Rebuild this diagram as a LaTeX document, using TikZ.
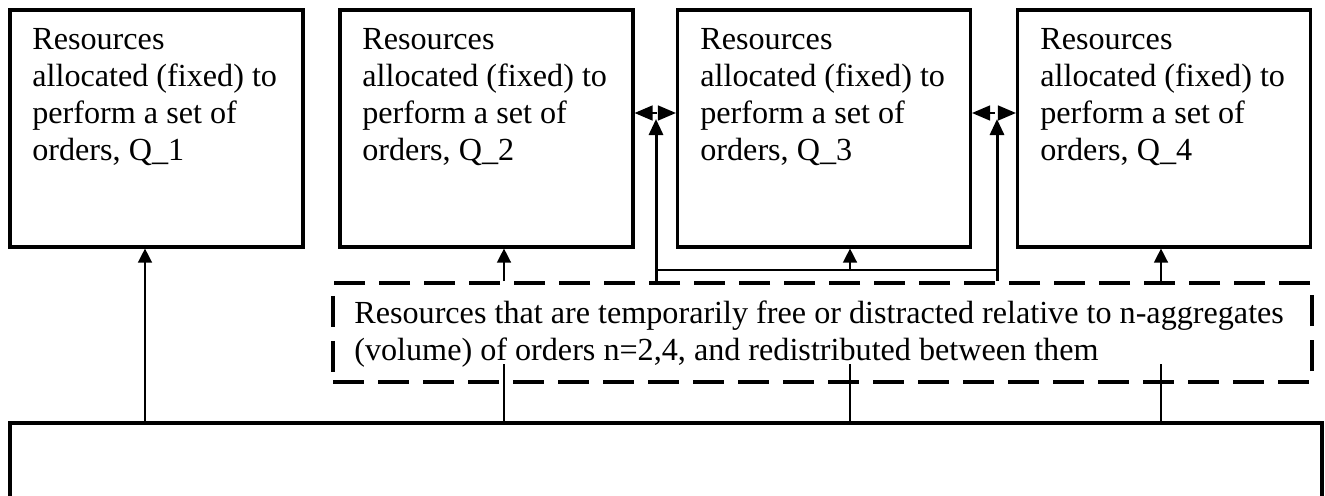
\documentclass[tikz,border=0pt]{standalone}
\usepackage{fontspec}
\setmainfont{Liberation Serif}
\usetikzlibrary{arrows.meta}
\begin{document}
\begin{tikzpicture}[
  box/.style={draw, line width=1.8pt, minimum width=5.86cm, minimum height=4.74cm, inner sep=0pt},
  txt/.style={anchor=north west, inner sep=0pt, align=left, font=\fontsize{18.3}{20.9}\selectfont},
  dbox/.style={draw, line width=2pt, dash pattern=on 0.62cm off 0.28cm, minimum width=19.58cm, minimum height=1.98cm, inner sep=0pt},
  bbox/.style={draw, line width=1.8pt, minimum width=26.24cm, minimum height=1.74cm, inner sep=0pt},
  thinarr/.style={line width=0.8pt, -{Triangle[length=0.28cm, width=0.28cm]}},
  thinline/.style={line width=0.8pt},
  thickarr/.style={line width=1.7pt, -{Triangle[length=0.32cm, width=0.28cm]}},
  thickline/.style={line width=1.7pt},
  dblarr/.style={line width=0.8pt, dash pattern=on 0.1cm off 0.08cm, {Triangle[length=0.36cm, width=0.3cm]}-{Triangle[length=0.36cm, width=0.3cm]}}
]
\useasboundingbox (0,0) rectangle (26.5,-9.9);
\clip (0,0) rectangle (26.5,-9.9);

% top boxes
\node[box] (b1) at (3.13,-2.57) {};
\node[box] (b2) at (9.73,-2.57) {};
\node[box] (b3) at (16.48,-2.57) {};
\node[box] (b4) at (23.28,-2.57) {};
\node[txt] (t1) at (0.64,-0.57) {Resources\\allocated (fixed) to\\perform a set of\\orders, Q\_1};
\node[txt] (t2) at (7.24,-0.57) {Resources\\allocated (fixed) to\\perform a set of\\orders, Q\_2};
\node[txt] (t3) at (14.0,-0.57) {Resources\\allocated (fixed) to\\perform a set of\\orders, Q\_3};
\node[txt] (t4) at (20.8,-0.57) {Resources\\allocated (fixed) to\\perform a set of\\orders, Q\_4};

% dashed box
\node[dbox] (d) at (16.45,-6.65) {};
\node[txt] (td) at (7.08,-6.01) {Resources that are temporarily free or distracted relative to n-aggregates\\(volume) of orders n=2,4, and redistributed between them};

% bottom box
\node[bbox] (bot) at (13.32,-9.33) {};

% x positions
\coordinate (x1) at (2.9,0);
\coordinate (x2) at (10.08,0);
\coordinate (x3) at (17.0,0);
\coordinate (x4) at (23.22,0);
\coordinate (xa) at (13.12,0);
\coordinate (xb) at (19.94,0);
\coordinate (yl) at (0,-7.28);
\coordinate (yh) at (0,-5.4);
\coordinate (yt) at (0,-2.38);
\coordinate (yd) at (0,-2.26);

% bottom box to box1
\draw[thinarr] (bot.north -| x1) -- (b1.south -| x1);
% lines from dashed box interior to bottom box
\draw[thinline] (yl -| x2) -- (bot.north -| x2);
\draw[thinline] (yl -| x3) -- (bot.north -| x3);
\draw[thinline] (yl -| x4) -- (bot.north -| x4);
% dashed box to boxes 2 and 4
\draw[thinarr] (d.north -| x2) -- (b2.south -| x2);
\draw[thinarr] (d.north -| x4) -- (b4.south -| x4);
% redistribution lines
\draw[thickline] (yh -| xa) -- (yh -| xb);
\draw[thinarr] (yh -| x3) -- (b3.south -| x3);
\draw[thickarr] (d.north -| xa) -- (yt -| xa);
\draw[thickarr] (d.north -| xb) -- (yt -| xb);
% double arrows between boxes
\draw[dblarr] (b2.east |- yd) -- (b3.west |- yd);
\draw[dblarr] (b3.east |- yd) -- (b4.west |- yd);
\end{tikzpicture}
\end{document}
